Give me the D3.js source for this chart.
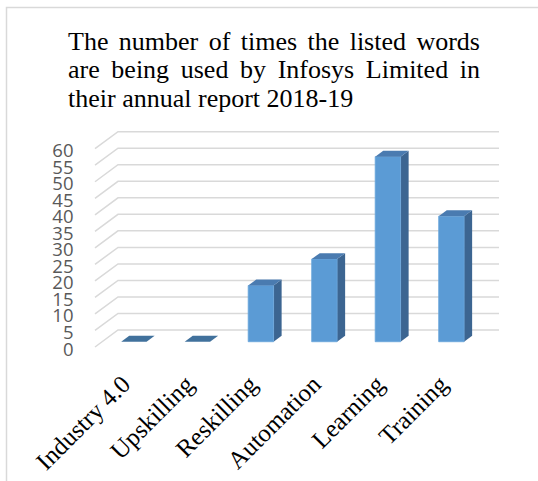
<!DOCTYPE html>
<html>
<head>
<meta charset="utf-8">
<script src="https://cdn.jsdelivr.net/npm/d3@7"></script>
<style>
  html, body { margin: 0; padding: 0; background: #fff; }
  svg { display: block; }
</style>
</head>
<body>
<svg id="chart" width="538" height="481"></svg>
<script>
// ---- Data ----
const categories = ["Industry 4.0", "Upskilling", "Reskilling", "Automation", "Learning", "Training"];
const values = [0, 0, 17, 25, 56, 38];
const yTicks = [0, 5, 10, 15, 20, 25, 30, 35, 40, 45, 50, 55, 60];
const titleLines = [
  "The number of times the listed words",
  "are being used by Infosys Limited in",
  "their annual report 2018-19"
];

// ---- Layout ----
const svg = d3.select("#chart");

// frame
svg.append("rect")
  .attr("x", 6.5).attr("y", 7.5)
  .attr("width", 560).attr("height", 500)
  .attr("fill", "#fff")
  .attr("stroke", "#d9d9d9").attr("stroke-width", 1.5);

// title (justified)
const titleLeft = 68, titleRight = 480;
const titleBase = [49.5, 78, 106.5];
const titleG = svg.append("g")
  .style("font-family", "'Liberation Serif', 'Times New Roman', serif")
  .attr("font-size", 26).attr("fill", "#000");
titleLines.forEach((line, li) => {
  const words = line.split(" ");
  const justify = li < titleLines.length - 1;
  const texts = words.map(w => titleG.append("text").attr("y", titleBase[li]).text(w));
  const widths = texts.map(t => t.node().getComputedTextLength());
  const total = d3.sum(widths);
  const spaceNat = 26 * 0.25;
  const gap = justify ? (titleRight - titleLeft - total) / (words.length - 1) : spaceNat;
  let xx = titleLeft;
  texts.forEach((t, i) => { t.attr("x", xx); xx += widths[i] + gap; });
});

// 3D oblique projection parameters
const depthDX = 23, depthDY = -17;
const x = d3.scaleBand().domain(categories).range([95, 476]).paddingInner(0).paddingOuter(0);
const y = d3.scaleLinear().domain([0, 60]).range([347, 148.7]);
const proj = (px, v, d) => [px + d * depthDX, y(v) + d * depthDY];

// gridlines: left wall diagonal + back wall horizontal
const grid = svg.append("g").attr("stroke", "#d9d9d9").attr("stroke-width", 1.5).attr("fill", "none");
yTicks.forEach(t => {
  const a = proj(x.range()[0], t, 0);
  const b = proj(x.range()[0], t, 1);
  const c = proj(x.range()[1], t, 1);
  grid.append("polyline").attr("points", [a, b, c].map(p => p.join(",")).join(" "));
});

// y-axis labels
const yl = svg.append("g")
  .style("font-family", "'Open Sans', 'Liberation Sans', sans-serif")
  .attr("font-size", 18.5).attr("fill", "#595959").attr("text-anchor", "end");
yTicks.forEach(t => {
  yl.append("text").attr("x", 73.5).attr("y", y(t) + 1).attr("dominant-baseline", "central").text(t);
});

// bars
const d0 = 0.31, d1 = 0.66;
const bw = x.bandwidth() * 0.4;
const bars = svg.append("g");
const poly = pts => pts.map(p => p.join(",")).join(" ");
categories.forEach((c, i) => {
  const v = values[i];
  const x0 = x(c) + (x.bandwidth() - bw) / 2, x1 = x0 + bw;
  const g = bars.append("g");
  if (v > 0) {
    g.append("polygon")
      .attr("points", poly([proj(x1, 0, d0), proj(x1, 0, d1), proj(x1, v, d1), proj(x1, v, d0)]))
      .attr("fill", "#3c6591");
    g.append("polygon")
      .attr("points", poly([proj(x0, 0, d0), proj(x1, 0, d0), proj(x1, v, d0), proj(x0, v, d0)]))
      .attr("fill", "#5b9bd5").attr("stroke", "#6aa6dc").attr("stroke-width", 0.8);
  }
  g.append("polygon")
    .attr("points", poly([proj(x0, v, d0), proj(x1, v, d0), proj(x1, v, d1), proj(x0, v, d1)]))
    .attr("fill", v > 0 ? "#4a7bb0" : "#41719c");
});

// category labels
const xl = svg.append("g")
  .style("font-family", "'Liberation Serif', 'Times New Roman', serif")
  .attr("font-size", 25).attr("fill", "#000").attr("text-anchor", "end");
categories.forEach(c => {
  const px = x(c) + x.bandwidth() / 2 + 5, py = 386;
  xl.append("text")
    .attr("transform", `translate(${px},${py}) rotate(-45)`)
    .text(c);
});
</script>
</body>
</html>
